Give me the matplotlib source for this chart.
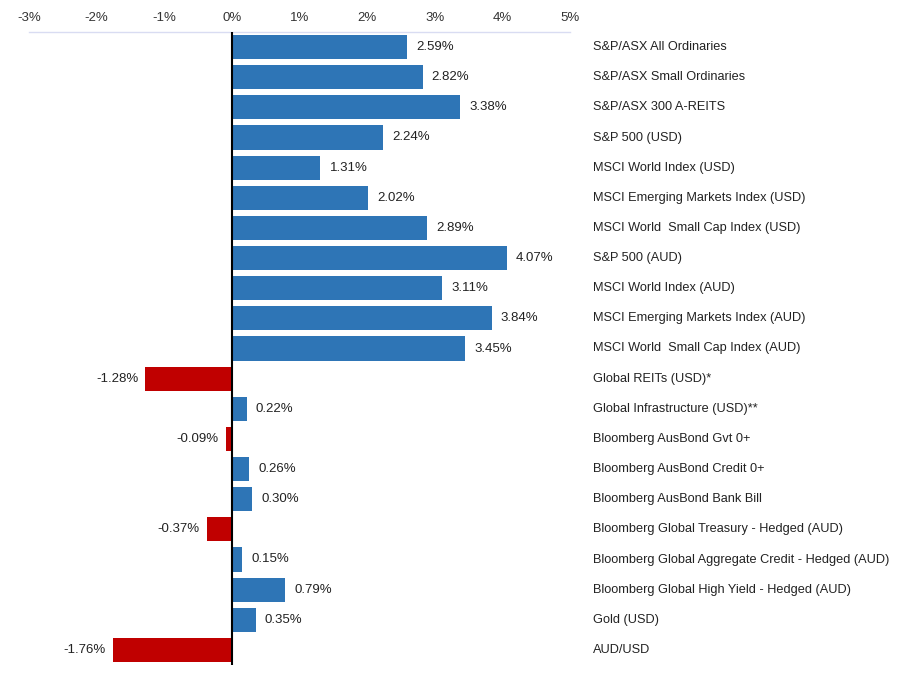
import numpy as np
import matplotlib
matplotlib.use("Agg")
from matplotlib import pyplot as plt

plt.rcParams['font.family'] = ['Liberation Sans', 'DejaVu Sans']

categories = [
    "S&P/ASX All Ordinaries",
    "S&P/ASX Small Ordinaries",
    "S&P/ASX 300 A-REITS",
    "S&P 500 (USD)",
    "MSCI World Index (USD)",
    "MSCI Emerging Markets Index (USD)",
    "MSCI World  Small Cap Index (USD)",
    "S&P 500 (AUD)",
    "MSCI World Index (AUD)",
    "MSCI Emerging Markets Index (AUD)",
    "MSCI World  Small Cap Index (AUD)",
    "Global REITs (USD)*",
    "Global Infrastructure (USD)**",
    "Bloomberg AusBond Gvt 0+",
    "Bloomberg AusBond Credit 0+",
    "Bloomberg AusBond Bank Bill",
    "Bloomberg Global Treasury - Hedged (AUD)",
    "Bloomberg Global Aggregate Credit - Hedged (AUD)",
    "Bloomberg Global High Yield - Hedged (AUD)",
    "Gold (USD)",
    "AUD/USD",
]
returns = [2.59, 2.82, 3.38, 2.24, 1.31, 2.02, 2.89, 4.07, 3.11, 3.84, 3.45,
           -1.28, 0.22, -0.09, 0.26, 0.30, -0.37, 0.15, 0.79, 0.35, -1.76]
xticks = [-3, -2, -1, 0, 1, 2, 3, 4, 5]

blue = "#2E75B6"
red = "#C00000"

fig = plt.figure(figsize=(9.12, 6.75), dpi=100)
ax = fig.add_axes([29/912, 1-665/675, 541/912, 633/675])

y = np.arange(len(categories))
vals = np.array(returns)
colors = [blue if v >= 0 else red for v in vals]
ax.barh(y, vals, height=0.8, color=colors, zorder=2)

ax.set_xlim(-3, 5)
ax.set_ylim(len(categories) - 0.5, -0.5)
ax.axvline(0, color="black", lw=1.5, zorder=3)
ax.axhline(-0.5, color="#D9DCF2", lw=1, clip_on=False)

for s in ax.spines.values():
    s.set_visible(False)

ax.xaxis.tick_top()
ax.set_xticks(xticks)
ax.set_xticklabels([f"{t}%" for t in xticks], fontsize=9.5, color="#333333")
ax.tick_params(axis="x", length=0, pad=6)
ax.set_yticks([])

for yi, v in zip(y, vals):
    if v >= 0:
        ax.annotate(f"{v:.2f}%", (v, yi), xytext=(9, 0), textcoords="offset pixels",
                    ha="left", va="center", fontsize=9.5, color="#222222")
    else:
        ax.annotate(f"{v:.2f}%", (v, yi), xytext=(-7, 0), textcoords="offset pixels",
                    ha="right", va="center", fontsize=9.5, color="#222222")

for yi, c in zip(y, categories):
    ax.annotate(c, (1, yi), xycoords=("axes fraction", "data"), xytext=(23, 0),
                textcoords="offset pixels", ha="left", va="center", fontsize=9.2,
                color="#222222", annotation_clip=False)

fig.savefig("out.png", dpi=100)
